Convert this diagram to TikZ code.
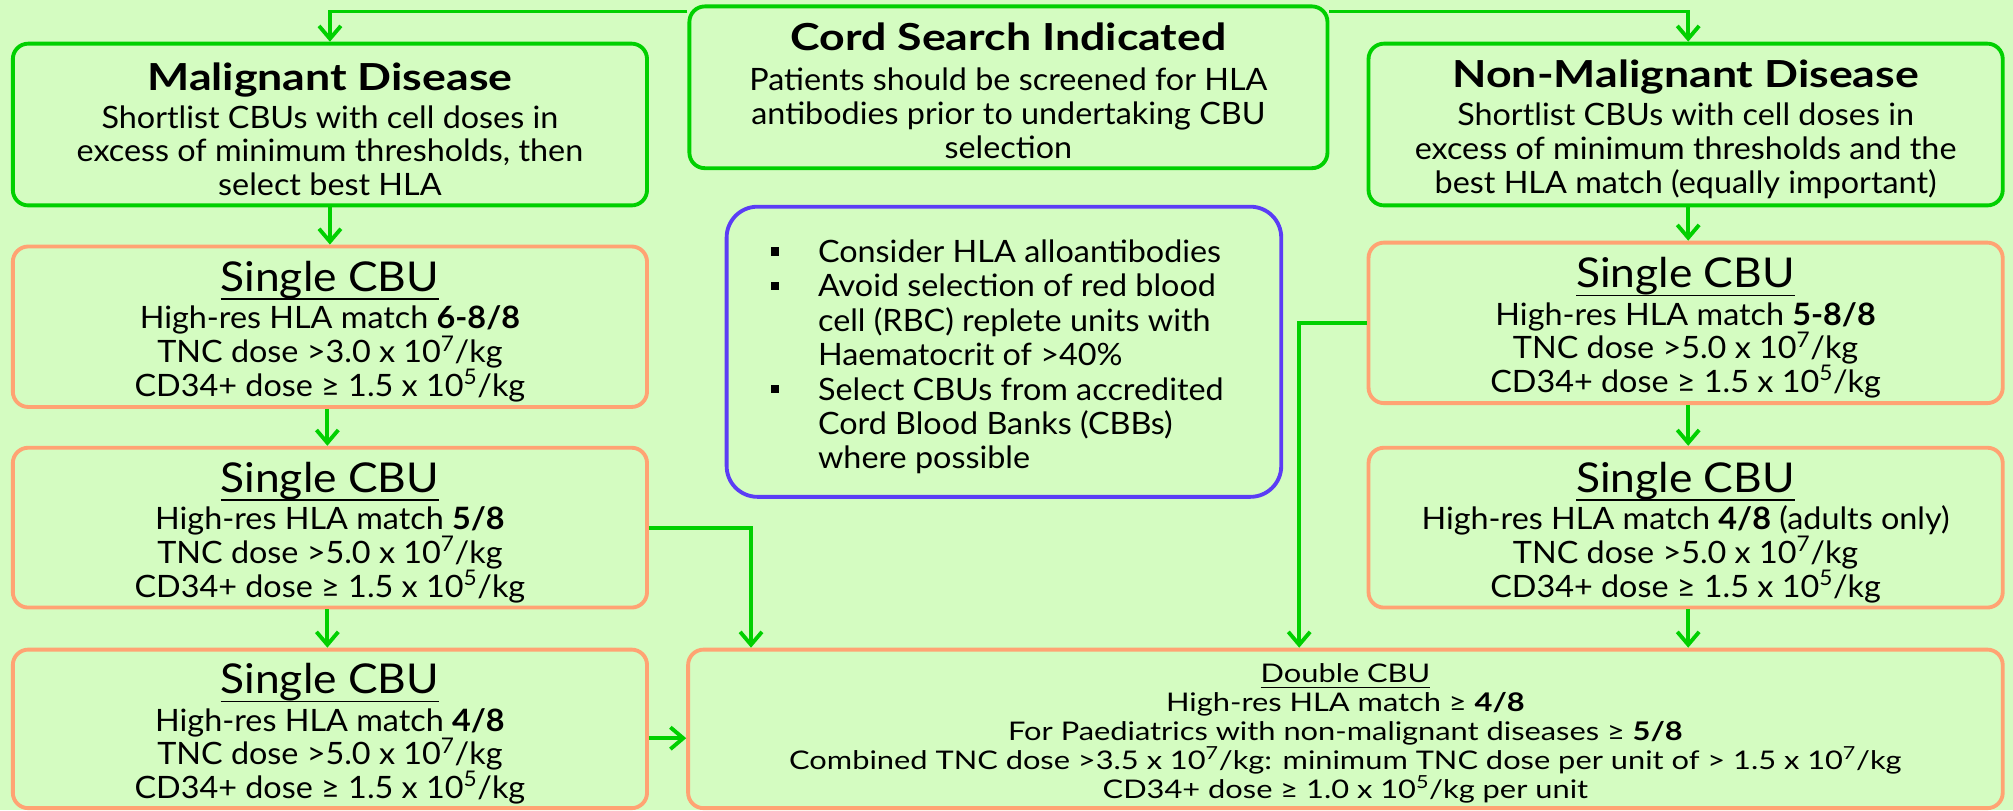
\documentclass[tikz,border=0pt]{standalone}
\usepackage{fontspec}
\setmainfont{Lato}
\newfontfamily\fbody[FakeStretch=1.05]{Lato}
\newfontfamily\fcbu[FakeStretch=1.08]{Lato}
\newfontfamily\ftitle[FakeStretch=1.2]{Lato}
\newfontfamily\fdbl[FakeStretch=1.2]{Lato}
\usetikzlibrary{arrows.meta}
\definecolor{bg}{HTML}{D4FCC1}
\definecolor{grn}{HTML}{00D000}
\definecolor{org}{HTML}{FFA373}
\definecolor{blu}{HTML}{5B3DF5}
\newcommand\titlef{\ftitle\fontsize{29}{30}\selectfont\bfseries}
\newcommand\bodyf{\fbody\fontsize{24}{26.3}\selectfont}
\newcommand\cbuf{\fcbu\fontsize{32}{32}\selectfont}
\newcommand\sq{\rule[5.3pt]{6.5pt}{6.5pt}}
% underline at a fixed depth: #1 = rule offset, #2 = text
\newcommand\ulx[2]{\setbox0\hbox{#2}\dimen0=\wd0\rlap{\box0}\rule[#1]{\dimen0}{1.4pt}}
\newcommand\cbuhead{{\cbuf\rule{0pt}{31pt}\ulx{-7pt}{Single CBU}}\\[3pt]}
\begin{document}
\begin{tikzpicture}[x=1pt,y=-1pt,
  gbox/.style={draw=grn, line width=3pt, rounded corners=12pt, align=center, font=\bodyf, inner sep=0pt},
  obox/.style={draw=org, line width=3pt, rounded corners=12pt, align=center, font=\bodyf, inner sep=0pt},
  bbox/.style={draw=blu, line width=3pt, rounded corners=24pt, inner sep=0pt},
  conn/.style={draw=grn, line width=3pt, -{Straight Barb[length=10pt,width=17pt,line width=3pt]}},
]
\useasboundingbox (0,0) rectangle (1568,631);
\fill[bg] (0,0) rectangle (1568,631);

\node[gbox, minimum width=497pt, minimum height=126pt] (cord) at (785.5,68)
  {{\titlef\rule{0pt}{27pt}Cord Search Indicated}\\[5pt]Patients should be screened for HLA\\antibodies prior to undertaking CBU\\selection};
\node[gbox, minimum width=494pt, minimum height=126pt] (mal) at (257,97)
  {{\titlef\rule{0pt}{29pt}Malignant Disease}\\[3pt]Shortlist CBUs with cell doses in\\excess of minimum thresholds, then\\select best HLA};
\node[gbox, minimum width=494pt, minimum height=126pt] (nonmal) at (1313,97)
  {{\titlef\rule{0pt}{29pt}Non-Malignant Disease}\\[3pt]Shortlist CBUs with cell doses in\\excess of minimum thresholds and the\\best HLA match (equally important)};

\node[obox, minimum width=494pt, minimum height=125pt] (s1) at (257,254.5)
  {\cbuhead High-res HLA match \textbf{6-8/8}\\TNC dose >3.0 x 10\textsuperscript{7}/kg\\CD34+ dose ≥ 1.5 x 10\textsuperscript{5}/kg};
\node[obox, minimum width=494pt, minimum height=124.5pt] (s2) at (257,411)
  {\cbuhead High-res HLA match \textbf{5/8}\\TNC dose >5.0 x 10\textsuperscript{7}/kg\\CD34+ dose ≥ 1.5 x 10\textsuperscript{5}/kg};
\node[obox, minimum width=494pt, minimum height=123.5pt] (s3) at (257,567.75)
  {\cbuhead High-res HLA match \textbf{4/8}\\TNC dose >5.0 x 10\textsuperscript{7}/kg\\CD34+ dose ≥ 1.5 x 10\textsuperscript{5}/kg};

\node[obox, minimum width=494pt, minimum height=125pt] (r1) at (1313,251.5)
  {\cbuhead High-res HLA match \textbf{5-8/8}\\TNC dose >5.0 x 10\textsuperscript{7}/kg\\CD34+ dose ≥ 1.5 x 10\textsuperscript{5}/kg};
\node[obox, minimum width=494pt, minimum height=124.5pt] (r2) at (1313,411)
  {\cbuhead High-res HLA match \textbf{4/8} (adults only)\\TNC dose >5.0 x 10\textsuperscript{7}/kg\\CD34+ dose ≥ 1.5 x 10\textsuperscript{5}/kg};

\node[obox, minimum width=1024pt, minimum height=123.5pt, font=\fdbl\fontsize{20}{22.5}\selectfont] (dbl) at (1048,567.75)
  {\rule{0pt}{22pt}\ulx{-4.3pt}{Double CBU}\\High-res HLA match ≥ \textbf{4/8}\\For Paediatrics with non-malignant diseases ≥ \textbf{5/8}\\Combined TNC dose >3.5 x 10\textsuperscript{7}/kg: minimum TNC dose per unit of > 1.5 x 10\textsuperscript{7}/kg\\CD34+ dose ≥ 1.0 x 10\textsuperscript{5}/kg per unit};

\node[bbox, minimum width=432pt, minimum height=226pt] (note) at (782,274) {};
\node[anchor=west, inner sep=0pt, font=\fbody\fontsize{24}{26.8}\selectfont] (notetxt) at (600,279.5)
  {\begin{tabular}{@{}p{37pt}@{}l@{}}
   \sq & Consider HLA alloantibodies\\
   \sq & Avoid selection of red blood\\
       & cell (RBC) replete units with\\
       & Haematocrit of >40\%\\
   \sq & Select CBUs from accredited\\
       & Cord Blood Banks (CBBs)\\
       & where possible
   \end{tabular}};

\coordinate (topy) at (0,9);
\coordinate (xl) at (255,0);
\coordinate (xa) at (585,0);
\coordinate (xb) at (1012,0);
\coordinate (ya) at (0,575);
\coordinate (xr) at (1315,0);

\draw[conn] (cord.west |- topy) -| (mal.north);
\draw[conn] (cord.east |- topy) -| (xr |- nonmal.north);
\draw[conn] (mal) -- (s1);
\draw[conn] (xl |- s1.south) -- (xl |- s2.north);
\draw[conn] (xl |- s2.south) -- (xl |- s3.north);
\draw[conn] (s2.east) -| (xa |- dbl.north);
\draw[conn] (s3.east |- ya) -- (dbl.west |- ya);
\draw[conn] (xr |- nonmal.south) -- (xr |- r1.north);
\draw[conn] (xr |- r1.south) -- (xr |- r2.north);
\draw[conn] (xr |- r2.south) -- (xr |- dbl.north);
\draw[conn] (r1.west) -| (xb |- dbl.north);
\end{tikzpicture}
\end{document}
